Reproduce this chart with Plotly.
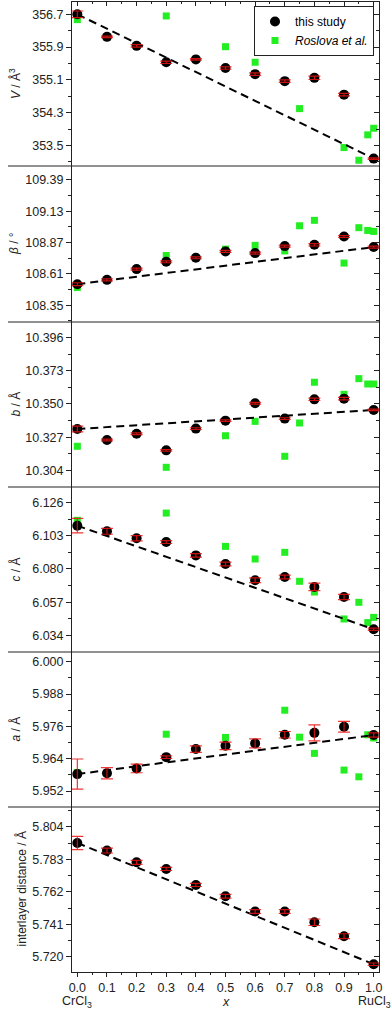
import plotly.graph_objects as go

# composition x in Cr(1-x)Ru(x)Cl3
x_study = [0.0, 0.1, 0.2, 0.3, 0.4, 0.5, 0.6, 0.7, 0.8, 0.9, 1.0]
x_roslova = [0.0, 0.3, 0.5, 0.6, 0.7, 0.75, 0.8, 0.9, 0.95, 0.98, 1.0]

# unit cell volume / A^3
V_study = [356.70, 356.15, 355.93, 355.53, 355.60, 355.39, 355.24, 355.07, 355.15, 354.74, 353.18]
V_err = [0.08, 0.02, 0.03, 0.03, 0.02, 0.03, 0.03, 0.03, 0.04, 0.03, 0.02]
V_roslova = [356.57, 356.66, 355.91, 355.53, 355.80, 354.40, 355.16, 353.45, 353.14, 353.76, 353.92]

# monoclinic angle beta / deg
beta_study = [108.524, 108.560, 108.649, 108.710, 108.743, 108.796, 108.782, 108.840, 108.851, 108.920, 108.832]
beta_err = [0.012, 0.008, 0.008, 0.008, 0.008, 0.008, 0.008, 0.008, 0.010, 0.008, 0.008]
beta_roslova = [108.496, 108.762, 108.815, 108.846, 108.800, 109.009, 109.054, 108.699, 108.993, 108.970, 108.962]

# lattice parameter b / A
b_study = [10.3327, 10.3252, 10.3295, 10.3180, 10.3330, 10.3385, 10.3505, 10.3399, 10.3532, 10.3537, 10.3459]
b_err = [0.0020, 0.0006, 0.0006, 0.0006, 0.0006, 0.0006, 0.0006, 0.0006, 0.0008, 0.0008, 0.0005]
b_roslova = [10.3208, 10.3063, 10.3281, 10.3380, 10.3139, 10.3369, 10.3650, 10.3567, 10.3675, 10.3638, 10.3638]

# lattice parameter c / A
c_study = [6.1099, 6.1060, 6.1012, 6.0986, 6.0894, 6.0835, 6.0722, 6.0745, 6.0676, 6.0607, 6.0384]
c_err = [0.0050, 0.0020, 0.0018, 0.0010, 0.0012, 0.0013, 0.0016, 0.0013, 0.0026, 0.0018, 0.0008]
c_roslova = [6.1136, 6.1186, 6.0956, 6.0869, 6.0915, 6.0715, 6.0641, 6.0455, 6.0570, 6.0430, 6.0466]

# lattice parameter a / A
a_study = [5.9583, 5.9586, 5.9604, 5.9646, 5.9676, 5.9688, 5.9697, 5.9729, 5.9736, 5.9759, 5.9728]
a_err = [0.0056, 0.0021, 0.0016, 0.0005, 0.0012, 0.0014, 0.0017, 0.0012, 0.0030, 0.0020, 0.0008]
a_roslova = [5.9589, 5.9731, 5.9719, None, 5.9820, 5.9720, 5.9660, 5.9598, 5.9573, 5.9729, 5.9717]

# interlayer distance / A
d_study = [5.7936, 5.7887, 5.7811, 5.7768, 5.7665, 5.7592, 5.7493, 5.7493, 5.7424, 5.7334, 5.7153]
d_err = [0.0043, 0.0016, 0.0013, 0.0010, 0.0010, 0.0012, 0.0012, 0.0012, 0.0021, 0.0016, 0.0008]

font = "Liberation Sans, Arial, sans-serif"
axcol = "#222222"
green = "#22ee22"

W, H = 392, 1011
ml, mr, mt, mb = 72, 13, 2, 39
pw = W - ml - mr
ph = H - mt - mb

# (study, err, roslova, y-range, tick0, dtick, format, title, title x px, panel top px, panel bottom px)
panels = [
    (V_study, V_err, V_roslova, [353.0, 357.0], 353.5, 0.8, ".1f", "<i>V</i> / Å<sup>3</sup>", 15, 2, 166),
    (beta_study, beta_err, beta_roslova, [108.21, 109.505], 108.35, 0.26, ".2f", "<i>β</i> / °", 14, 166, 322),
    (b_study, b_err, b_roslova, [10.2927, 10.4066], 10.304, 0.023, ".3f", "<i>b</i> / Å", 15, 322, 487),
    (c_study, c_err, c_roslova, [6.0227, 6.1366], 6.034, 0.023, ".3f", "<i>c</i> / Å", 15, 487, 652),
    (a_study, a_err, a_roslova, [5.9461, 6.0036], 5.952, 0.012, ".3f", "<i>a</i> / Å", 15, 652, 807),
    (d_study, d_err, None, [5.7103, 5.8168], 5.720, 0.021, ".3f", "interlayer distance / Å", 21, 807, 972),
]

fig = go.Figure()
layout = {}
annotations = []
shapes = []

def py(px):
    return (H - mb - px) / ph

for i, (st, err, ros, rng, t0, dt, fmt, title, tx, top, bot) in enumerate(panels, start=1):
    yname = "y" if i == 1 else f"y{i}"
    if ros is not None:
        fig.add_trace(go.Scatter(
            x=x_roslova, y=ros, mode="markers", yaxis=yname, xaxis="x",
            marker=dict(symbol="square", size=7, color=green),
            name="<i>Roslova et al.</i>", showlegend=(i == 1), legendrank=2,
        ))
    fig.add_trace(go.Scatter(
        x=[x_study[0], x_study[-1]], y=[st[0], st[-1]], mode="lines",
        yaxis=yname, xaxis="x", showlegend=False,
        line=dict(color="black", width=2, dash="8px,5px"),
    ))
    fig.add_trace(go.Scatter(
        x=x_study, y=st, mode="markers", yaxis=yname, xaxis="x",
        marker=dict(symbol="circle", size=10, color="black"),
        name="this study", showlegend=(i == 1), legendrank=1,
    ))
    fig.add_trace(go.Scatter(
        x=x_study, y=st, mode="markers", yaxis=yname, xaxis="x",
        marker=dict(size=10, color="rgba(0,0,0,0)"), showlegend=False,
        error_y=dict(type="data", array=err, color="rgba(235,20,20,0.85)", thickness=1.2, width=6),
    ))

    dom = [py(bot), py(top)]
    common = dict(
        domain=dom, range=rng, tick0=t0, dtick=dt, anchor="x",
        showgrid=False, zeroline=False, showline=True, linecolor=axcol, linewidth=1,
        ticklen=5, tickcolor=axcol,
        minor=dict(tick0=t0, dtick=dt / 2, ticks="outside", ticklen=3, tickcolor=axcol),
    )
    layout["yaxis" if i == 1 else f"yaxis{i}"] = dict(
        common, ticks="outside", tickformat=fmt,
        tickfont=dict(family=font, size=12.5, color=axcol),
    )
    right = dict(common, ticks="inside", showticklabels=False, side="right", overlaying=yname)
    right["minor"] = dict(tick0=t0, dtick=dt / 2, ticks="inside", ticklen=3, tickcolor=axcol)
    layout[f"yaxis{i + 6}"] = right

    annotations.append(dict(
        text=title, xref="paper", yref="paper", x=(tx - ml) / pw, y=(dom[0] + dom[1]) / 2,
        xanchor="center", yanchor="middle", textangle=-90, showarrow=False,
        font=dict(family=font, size=12, color=axcol),
    ))
    if i > 1:
        shapes.append(dict(
            type="line", xref="paper", yref="paper", x0=(8 - ml) / pw, x1=1.0,
            y0=py(top), y1=py(top), line=dict(color=axcol, width=1),
        ))

# invisible traces so the overlaid right-hand / top axes get drawn
for i in range(7, 13):
    fig.add_trace(go.Scatter(x=[None], y=[None], yaxis=f"y{i}", xaxis="x", showlegend=False))
fig.add_trace(go.Scatter(x=[None], y=[None], yaxis="y", xaxis="x2", showlegend=False))

xr = [-0.018, 1.018]
layout["xaxis"] = dict(
    domain=[0, 1], range=xr, anchor="y6", tick0=0, dtick=0.1, tickformat=".1f",
    ticks="outside", ticklen=4, tickcolor=axcol, showline=True, linecolor=axcol,
    showgrid=False, zeroline=False,
    minor=dict(tick0=0, dtick=0.05, ticks="outside", ticklen=2, tickcolor=axcol),
    tickfont=dict(family=font, size=12.5, color=axcol),
)
layout["xaxis2"] = dict(
    domain=[0, 1], range=xr, anchor="y", side="top", overlaying="x", tick0=0, dtick=0.1,
    ticks="inside", ticklen=4, tickcolor=axcol, showline=True, linecolor=axcol,
    showticklabels=False, showgrid=False, zeroline=False,
    minor=dict(tick0=0, dtick=0.05, ticks="inside", ticklen=2, tickcolor=axcol),
)

for txt, xv in [("CrCl<sub>3</sub>", 0.0), ("<i>x</i>", 0.5), ("RuCl<sub>3</sub>", 1.004)]:
    annotations.append(dict(
        text=txt, xref="x", yref="paper", x=xv, y=-(1002 - (H - mb)) / ph,
        xanchor="center", yanchor="middle", showarrow=False,
        font=dict(family=font, size=12.5, color=axcol),
    ))

fig.update_layout(
    width=W, height=H, margin=dict(l=ml, r=mr, t=mt, b=mb),
    plot_bgcolor="white", paper_bgcolor="white",
    annotations=annotations, shapes=shapes,
    legend=dict(
        x=(374 - ml) / pw, xanchor="right", y=py(6), yanchor="top",
        bgcolor="white", bordercolor=axcol, borderwidth=1,
        font=dict(family=font, size=12, color="black"), tracegroupgap=0,
    ),
    **layout,
)

fig.write_html("out.html", config={"displayModeBar": False},
               post_script="document.body.style.margin='0';")
